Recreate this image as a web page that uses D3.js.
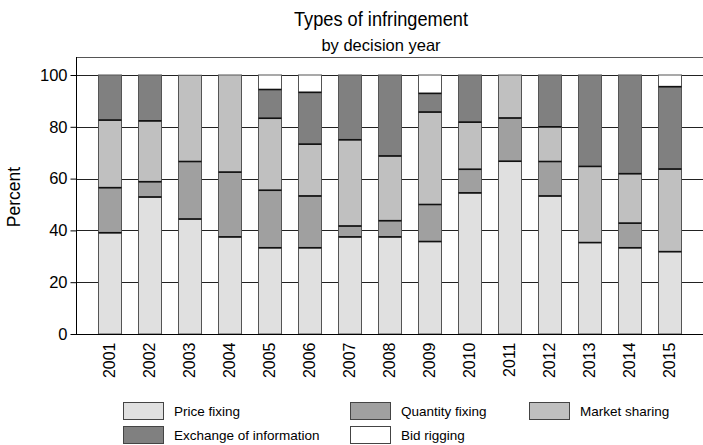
<!DOCTYPE html>
<html><head><meta charset="utf-8">
<script src="https://cdn.jsdelivr.net/npm/d3@7"></script>
<style>body{margin:0;background:#fff}svg{display:block;font-family:"Liberation Sans",Arial,sans-serif}</style>
</head><body><svg id="c" width="703" height="445"></svg>
<script>
const years = ["2001","2002","2003","2004","2005","2006","2007","2008","2009","2010","2011","2012","2013","2014","2015"];
const priceFixing    = [39.1, 52.9, 44.4, 37.5, 33.3, 33.3, 37.5, 37.5, 35.7, 54.5, 66.7, 53.3, 35.3, 33.3, 31.8];
const quantityFixing = [17.4,  5.9, 22.2, 25.0, 22.2, 20.0,  4.2,  6.25,14.3,  9.1, 16.7, 13.3,  0.0,  9.5,  0.0];
const marketSharing  = [26.1, 23.5, 33.3, 37.5, 27.8, 20.0, 33.3, 25.0, 35.7, 18.2, 16.6, 13.4, 29.4, 19.1, 31.9];
const exchangeInfo   = [17.4, 17.7,  0.0,  0.0, 11.1, 20.0, 25.0, 31.25, 7.2, 18.2,  0.0, 20.0, 35.3, 38.1, 31.8];
const bidRigging     = [ 0.0,  0.0,  0.0,  0.0,  5.6,  6.7,  0.0,  0.0,  7.1,  0.0,  0.0,  0.0,  0.0,  0.0,  4.5];
const seriesNames = ["Price fixing","Quantity fixing","Market sharing","Exchange of information","Bid rigging"];
const seriesColors = ["#e0e0e0","#a0a0a0","#c0c0c0","#808080","#ffffff"];
const yTicks = [0,20,40,60,80,100];

const svg = d3.select("#c");
const seriesVals = [priceFixing, quantityFixing, marketSharing, exchangeInfo, bidRigging];
const keys = ["p","q","m","e","b"];
const rows = years.map((y,i)=>{const r={year:y}; keys.forEach((k,j)=>r[k]=seriesVals[j][i]); return r;});
const stacked = d3.stack().keys(keys)(rows);

const x = d3.scaleBand().domain(years).range([77,702]).paddingInner(0.42).paddingOuter(0.53);
const y = d3.scaleLinear().domain([0,100]).range([334,75]);

// titles
svg.append("text").attr("x",381).attr("y",26).attr("text-anchor","middle").attr("font-size",21)
  .attr("textLength",174).attr("lengthAdjust","spacingAndGlyphs").text("Types of infringement");
svg.append("text").attr("x",381).attr("y",51).attr("text-anchor","middle").attr("font-size",16.5).text("by decision year");

// frame top
svg.append("line").attr("x1",76.5).attr("x2",703).attr("y1",57.5).attr("y2",57.5).attr("stroke","#555");

// gridlines
svg.append("g").selectAll("line").data(yTicks.filter(d=>d>0)).join("line")
  .attr("x1",77).attr("x2",703).attr("y1",d=>Math.round(y(d))+0.5).attr("y2",d=>Math.round(y(d))+0.5)
  .attr("stroke","#222");

// bars
const g = svg.append("g");
stacked.forEach((s,j)=>{
  g.selectAll(null).data(s.filter(d=>d[1]-d[0]>0)).join("rect")
    .attr("x",d=>Math.round(x(d.data.year))+0.5)
    .attr("width",Math.round(x.bandwidth()))
    .attr("y",d=>y(d[1]))
    .attr("height",d=>y(d[0])-y(d[1]))
    .attr("fill",seriesColors[j]).attr("stroke","#555").attr("stroke-width",1);
});
stacked.forEach((s,j)=>{
  g.selectAll(null).data(s.filter(d=>d[1]-d[0]>0 && d[0]>0)).join("line")
    .attr("x1",d=>Math.round(x(d.data.year))+0.5)
    .attr("x2",d=>Math.round(x(d.data.year))+0.5+Math.round(x.bandwidth()))
    .attr("y1",d=>y(d[0])).attr("y2",d=>y(d[0]))
    .attr("stroke","#111").attr("stroke-width",1.6);
});

// y axis
const ya = svg.append("g").attr("transform","translate(76.5,0)")
  .call(d3.axisLeft(y).tickValues(yTicks).tickSize(6).tickPadding(3).tickFormat(d3.format("d")));
ya.select(".domain").remove();
ya.selectAll("text").attr("font-size",16.5).attr("font-family","Liberation Sans, Arial, sans-serif").attr("fill","#000");
svg.append("line").attr("x1",76.5).attr("x2",76.5).attr("y1",57).attr("y2",334.5).attr("stroke","#000");
svg.append("line").attr("x1",76).attr("x2",703).attr("y1",334.5).attr("y2",334.5).attr("stroke","#000");

// x axis labels
const xa = svg.append("g").attr("transform","translate(0,334.5)")
  .call(d3.axisBottom(x).tickSize(0).tickPadding(0));
xa.select(".domain").remove();
xa.selectAll("text").attr("font-size",16).attr("font-family","Liberation Sans, Arial, sans-serif").attr("fill","#000")
  .attr("text-anchor","end").attr("dy","0.35em")
  .attr("transform","translate(0,8) rotate(-90)").attr("x",0).attr("y",0);

// y label
svg.append("text").attr("transform","translate(20,197) rotate(-90)").attr("text-anchor","middle").attr("font-size",17.5).text("Percent");

// legend
const legPos = [[123,402],[350,402],[529,402],[123,426],[350,426]];
const lg = svg.append("g").selectAll("g").data(seriesNames).join("g")
  .attr("transform",(d,i)=>`translate(${legPos[i][0]},${legPos[i][1]})`);
lg.append("rect").attr("x",0.5).attr("y",0.5).attr("width",40).attr("height",17)
  .attr("fill",(d,i)=>seriesColors[i]).attr("stroke","#444");
lg.append("text").attr("x",51).attr("y",14).attr("font-size",13.5).text(d=>d);
</script></body></html>
